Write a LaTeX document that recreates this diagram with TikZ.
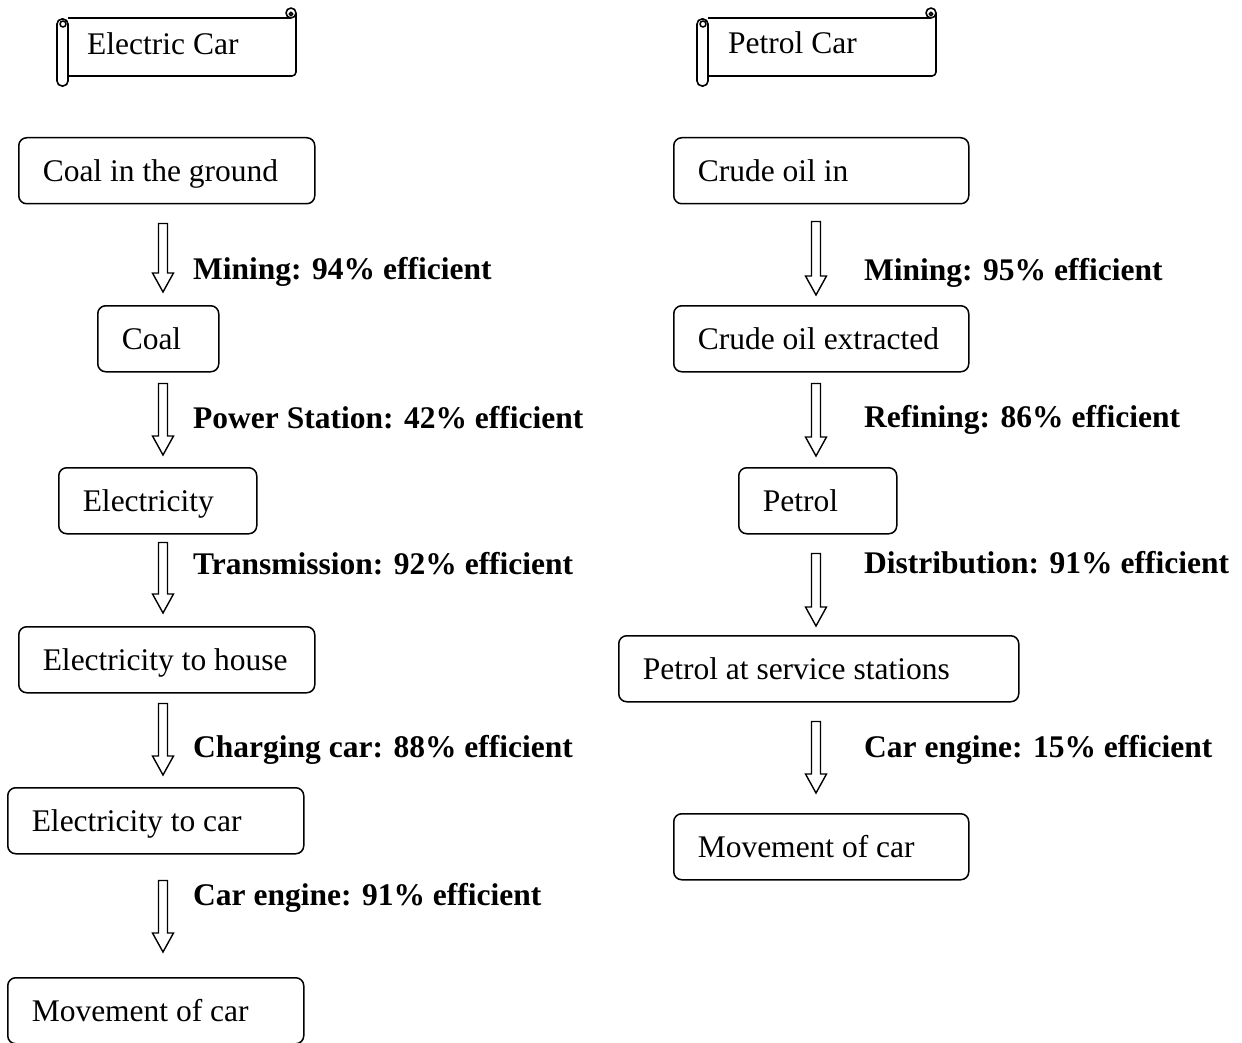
\documentclass[tikz,border=0pt]{standalone}
\usepackage{fontspec}
\setmainfont{Liberation Serif}
\usetikzlibrary{calc}
\newcommand\bxt[2]{\makebox[#1][l]{#2}}
\newcommand\barrow[5]{%
  \draw[blockarrow] let \p1=($(#1.south -| #3)+(0,#4)$), \p2=($(#2.north -| #3)+(0,-#5)$) in
    (\x1-4.5pt,\y1) -- (\x1+4.5pt,\y1) -- (\x1+4.5pt,\y2+19pt) -- (\x1+10.5pt,\y2+19pt)
    -- (\x1,\y2) -- (\x1-10.5pt,\y2+19pt) -- (\x1-4.5pt,\y2+19pt) -- cycle;}
\newcommand\scrollshape[1]{%
  \begin{scope}[xshift=#1pt]
    \draw[scrollline] (68,18) -- (291,18);
    \draw[scrollline, rounded corners=4pt] (296,13) -- (296,76) -- (68,76);
    \draw[scrollline, fill=white] (291,13) circle[radius=5pt];
    \draw[scrollline] (291,14) circle[radius=1.8pt];
    \draw[scrollline, fill=white, rounded corners=5pt] (57,19) rectangle (68,86);
    \draw[scrollline] (63,24) circle[radius=3pt];
  \end{scope}}
\begin{document}
\begin{tikzpicture}[x=1pt,y=-1pt, font=\fontsize{31.5}{38}\selectfont,
  box/.style={draw, line width=1.5pt, rounded corners=8pt, inner xsep=24pt, inner ysep=0pt,
    text height=22pt, text depth=0pt, minimum height=66pt, anchor=north west},
  lbl/.style={anchor=base west, inner sep=0pt, font=\fontsize{31.5}{38}\selectfont\bfseries},
  title/.style={anchor=base west, inner sep=0pt},
  blockarrow/.style={draw, line width=1.4pt, fill=white, line join=miter},
  scrollline/.style={line width=1.6pt, line join=round}]
\useasboundingbox (0,0) rectangle (1242,1043);
\fill[white] (0,0) rectangle (1242,1043);

% scroll titles
\scrollshape{0}
\scrollshape{640}
\node[title] (tE) at (87,55) {Electric Car};
\node[title] (tP) at (728,54) {Petrol Car};

\coordinate (Lx) at (163,0);
\coordinate (Rx) at (816,0);

% electric car chain
\node[box] (L1) at (18,137) {\bxt{248pt}{Coal in the ground}};
\node[box] (L2) at (97,305) {\bxt{73pt}{Coal}};
\node[box] (L3) at (58,467) {\bxt{150pt}{Electricity}};
\node[box] (L4) at (18,626) {\bxt{248pt}{Electricity to house}};
\node[box] (L5) at (7,787) {\bxt{248pt}{Electricity to car}};
\node[box] (L6) at (7,977) {\bxt{248pt}{Movement of car}};

% petrol car chain
\node[box] (R1) at (673,137) {\bxt{247pt}{Crude oil in}};
\node[box] (R2) at (673,305) {\bxt{247pt}{Crude oil extracted}};
\node[box] (R3) at (738,467) {\bxt{110pt}{Petrol}};
\node[box] (R4) at (618,635) {\bxt{352pt}{Petrol at service stations}};
\node[box] (R5) at (673,813) {\bxt{247pt}{Movement of car}};

% block arrows
\barrow{L1}{L2}{Lx}{19}{13}
\barrow{L2}{L3}{Lx}{11}{12}
\barrow{L3}{L4}{Lx}{8}{13}
\barrow{L4}{L5}{Lx}{10}{12}
\barrow{L5}{L6}{Lx}{26}{25}
\barrow{R1}{R2}{Rx}{17}{10}
\barrow{R2}{R3}{Rx}{11}{11}
\barrow{R3}{R4}{Rx}{19}{9}
\barrow{R4}{R5}{Rx}{19}{20}

% labels
\node[lbl] (l1) at (193,279) {Mining: 94\% efficient};
\node[lbl] (l2) at (193,428) {Power Station: 42\% efficient};
\node[lbl] (l3) at (193,574) {Transmission: 92\% efficient};
\node[lbl] (l4) at (193,757) {Charging car: 88\% efficient};
\node[lbl] (l5) at (193,905) {Car engine: 91\% efficient};
\node[lbl] (r1) at (864,280) {Mining: 95\% efficient};
\node[lbl] (r2) at (864,427) {Refining: 86\% efficient};
\node[lbl] (r3) at (864,573) {Distribution: 91\% efficient};
\node[lbl] (r4) at (864,757) {Car engine: 15\% efficient};
\end{tikzpicture}
\end{document}
